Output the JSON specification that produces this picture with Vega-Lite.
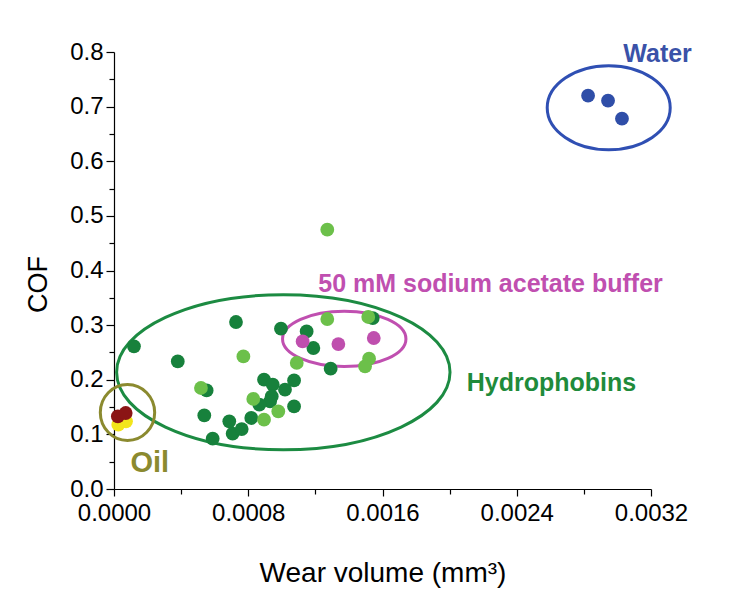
{
  "$schema": "https://vega.github.io/schema/vega-lite/v6.json",
  "width": 537,
  "height": 437,
  "autosize": {"type": "none"},
  "padding": {"left": 114, "top": 52, "right": 84, "bottom": 122},
  "background": "white",
  "config": {
    "view": {"stroke": null},
    "font": "Liberation Sans",
    "axis": {"grid": false, "domainColor": "black", "tickColor": "black", "labelColor": "black", "titleColor": "black", "labelFont": "Liberation Sans", "titleFont": "Liberation Sans", "titleFontWeight": "normal", "domainWidth": 1.2, "tickWidth": 1.2}
  },
  "datasets": {
    "points": [
      {"x": 0.0000256, "y": 0.1177, "group": "Oil (yellow)"},
      {"x": 0.0000715, "y": 0.1238, "group": "Oil (yellow)"},
      {"x": 0.0000230, "y": 0.1329, "group": "Oil (red)"},
      {"x": 0.0000697, "y": 0.1391, "group": "Oil (red)"},
      {"x": 0.000119, "y": 0.2611, "group": "Hydrophobins (dark)"},
      {"x": 0.000727, "y": 0.3057, "group": "Hydrophobins (dark)"},
      {"x": 0.000380, "y": 0.2336, "group": "Hydrophobins (dark)"},
      {"x": 0.000995, "y": 0.2935, "group": "Hydrophobins (dark)"},
      {"x": 0.001148, "y": 0.2885, "group": "Hydrophobins (dark)"},
      {"x": 0.001188, "y": 0.2581, "group": "Hydrophobins (dark)"},
      {"x": 0.001542, "y": 0.3130, "group": "Hydrophobins (dark)"},
      {"x": 0.001291, "y": 0.2202, "group": "Hydrophobins (dark)"},
      {"x": 0.000552, "y": 0.1805, "group": "Hydrophobins (dark)"},
      {"x": 0.000894, "y": 0.2001, "group": "Hydrophobins (dark)"},
      {"x": 0.000946, "y": 0.1909, "group": "Hydrophobins (dark)"},
      {"x": 0.001019, "y": 0.1818, "group": "Hydrophobins (dark)"},
      {"x": 0.001073, "y": 0.1988, "group": "Hydrophobins (dark)"},
      {"x": 0.000940, "y": 0.1695, "group": "Hydrophobins (dark)"},
      {"x": 0.000930, "y": 0.1604, "group": "Hydrophobins (dark)"},
      {"x": 0.000866, "y": 0.1543, "group": "Hydrophobins (dark)"},
      {"x": 0.001073, "y": 0.1512, "group": "Hydrophobins (dark)"},
      {"x": 0.000818, "y": 0.1300, "group": "Hydrophobins (dark)"},
      {"x": 0.000538, "y": 0.1347, "group": "Hydrophobins (dark)"},
      {"x": 0.000687, "y": 0.1238, "group": "Hydrophobins (dark)"},
      {"x": 0.000707, "y": 0.1012, "group": "Hydrophobins (dark)"},
      {"x": 0.000761, "y": 0.1098, "group": "Hydrophobins (dark)"},
      {"x": 0.000588, "y": 0.0921, "group": "Hydrophobins (dark)"},
      {"x": 0.001271, "y": 0.4747, "group": "Hydrophobins (light)"},
      {"x": 0.000771, "y": 0.2427, "group": "Hydrophobins (light)"},
      {"x": 0.001271, "y": 0.3112, "group": "Hydrophobins (light)"},
      {"x": 0.001515, "y": 0.3149, "group": "Hydrophobins (light)"},
      {"x": 0.001089, "y": 0.2307, "group": "Hydrophobins (light)"},
      {"x": 0.001520, "y": 0.2385, "group": "Hydrophobins (light)"},
      {"x": 0.001496, "y": 0.2244, "group": "Hydrophobins (light)"},
      {"x": 0.000518, "y": 0.1849, "group": "Hydrophobins (light)"},
      {"x": 0.000830, "y": 0.1648, "group": "Hydrophobins (light)"},
      {"x": 0.000979, "y": 0.1421, "group": "Hydrophobins (light)"},
      {"x": 0.000894, "y": 0.1269, "group": "Hydrophobins (light)"},
      {"x": 0.001124, "y": 0.2702, "group": "Buffer"},
      {"x": 0.001337, "y": 0.2654, "group": "Buffer"},
      {"x": 0.001548, "y": 0.2764, "group": "Buffer"},
      {"x": 0.002825, "y": 0.7200, "group": "Water"},
      {"x": 0.002944, "y": 0.7109, "group": "Water"},
      {"x": 0.003027, "y": 0.6779, "group": "Water"}
    ],
    "ellipses": [
      {"name": "Hydrophobins", "x": 0.001009, "y": 0.2138},
      {"name": "Buffer", "x": 0.001372, "y": 0.2748},
      {"name": "Water", "x": 0.002948, "y": 0.6980},
      {"name": "Oil", "x": 0.0000804, "y": 0.1400}
    ],
    "labels": [
      {"label": "Water", "x": 0.003035, "y": 0.7969, "group": "Water label"},
      {"label": "50 mM sodium acetate buffer", "x": 0.001217, "y": 0.3749, "group": "Buffer label"},
      {"label": "Hydrophobins", "x": 0.002102, "y": 0.1940, "group": "Hydrophobins label"},
      {"label": "Oil", "x": 0.0000980, "y": 0.0476, "group": "Oil label"}
    ]
  },
  "encoding": {
    "x": {"field": "x", "type": "quantitative", "scale": {"domain": [0, 0.0032], "nice": false, "zero": false}, "axis": null},
    "y": {"field": "y", "type": "quantitative", "scale": {"domain": [0, 0.8], "nice": false, "zero": false}, "axis": null}
  },
  "layer": [
    {
      "data": {"name": "ellipses"},
      "transform": [{"filter": "datum.name === 'Hydrophobins'"}],
      "mark": {"type": "point", "shape": "M-1,0C-1,-0.2568,-0.5523,-0.465,0,-0.465C0.5523,-0.465,1,-0.2568,1,0C1,0.2568,0.5523,0.465,0,0.465C-0.5523,0.465,-1,0.2568,-1,0Z", "size": 111156, "filled": false, "stroke": "#1c8b42", "strokeWidth": 3, "opacity": 1},
      "encoding": {
        "x": {"field": "x", "type": "quantitative", "scale": {"domain": [0, 0.0032], "nice": false, "zero": false}, "axis": {"orient": "bottom", "values": [0.0004, 0.0012, 0.002, 0.0028], "labels": false, "domain": false, "tickSize": 5, "title": null}},
        "y": {"field": "y", "type": "quantitative", "scale": {"domain": [0, 0.8], "nice": false, "zero": false}, "axis": {"orient": "left", "values": [0.05, 0.15, 0.25, 0.35, 0.45, 0.55, 0.65, 0.75], "labels": false, "domain": false, "tickSize": 5, "title": null}}
      }
    },
    {
      "data": {"name": "ellipses"},
      "transform": [{"filter": "datum.name === 'Buffer'"}],
      "mark": {"type": "point", "shape": "M-1,0C-1,-0.2463,-0.5523,-0.446,0,-0.446C0.5523,-0.446,1,-0.2463,1,0C1,0.2463,0.5523,0.446,0,0.446C-0.5523,0.446,-1,0.2463,-1,0Z", "size": 15228, "filled": false, "stroke": "#c04fb0", "strokeWidth": 3, "opacity": 1}
    },
    {
      "data": {"name": "ellipses"},
      "transform": [{"filter": "datum.name === 'Water'"}],
      "mark": {"type": "point", "shape": "M-1,0C-1,-0.3772,-0.5523,-0.683,0,-0.683C0.5523,-0.683,1,-0.3772,1,0C1,0.3772,0.5523,0.683,0,0.683C-0.5523,0.683,-1,0.3772,-1,0Z", "size": 15129, "filled": false, "stroke": "#2f4fb3", "strokeWidth": 3, "opacity": 1}
    },
    {
      "data": {"name": "ellipses"},
      "transform": [{"filter": "datum.name === 'Oil'"}],
      "mark": {"type": "point", "shape": "M-0.971,0C-0.971,-0.5523,-0.5363,-1,0,-1C0.5363,-1,0.971,-0.5523,0.971,0C0.971,0.5523,0.5363,1,0,1C-0.5363,1,-0.971,0.5523,-0.971,0Z", "size": 3136, "filled": false, "stroke": "#8b8a2f", "strokeWidth": 3, "opacity": 1}
    },
    {
      "data": {"name": "points"},
      "mark": {"type": "point", "shape": "circle", "filled": true, "size": 190, "opacity": 1, "strokeWidth": 0},
      "encoding": {
        "x": {"field": "x", "type": "quantitative", "scale": {"domain": [0, 0.0032], "nice": false, "zero": false},
          "axis": {"orient": "bottom", "values": [0, 0.0008, 0.0016, 0.0024, 0.0032], "format": ".4f", "title": "Wear volume (mm³)", "titleFontSize": 28, "labelFontSize": 24, "tickSize": 7, "labelPadding": 5, "titlePadding": 34, "labelFlush": false, "labelOverlap": false}},
        "y": {"field": "y", "type": "quantitative", "scale": {"domain": [0, 0.8], "nice": false, "zero": false},
          "axis": {"orient": "left", "values": [0, 0.1, 0.2, 0.3, 0.4, 0.5, 0.6, 0.7, 0.8], "format": ".1f", "title": "COF", "titleFontSize": 27, "labelFontSize": 24, "tickSize": 8, "labelPadding": 3, "titlePadding": 17, "titleY": 232, "labelFlush": false, "labelOverlap": false}},
        "color": {"field": "group", "type": "nominal", "legend": null,
          "scale": {"domain": ["Oil (yellow)", "Oil (red)", "Hydrophobins (dark)", "Hydrophobins (light)", "Buffer", "Water", "Water label", "Buffer label", "Hydrophobins label", "Oil label"],
                    "range": ["#f3e51b", "#8b1515", "#17813c", "#6cc04a", "#bf4fae", "#2f4ea8", "#3a52a8", "#c04fb0", "#1f8b3b", "#8b8a2f"]}}
      }
    },
    {
      "data": {"name": "labels"},
      "transform": [{"filter": "datum.label !== 'Oil'"}],
      "mark": {"type": "text", "align": "left", "baseline": "middle", "fontSize": 25, "fontWeight": "bold", "font": "Liberation Sans"},
      "encoding": {
        "text": {"field": "label"},
        "color": {"field": "group", "type": "nominal", "legend": null}
      }
    },
    {
      "data": {"name": "labels"},
      "transform": [{"filter": "datum.label === 'Oil'"}],
      "mark": {"type": "text", "align": "left", "baseline": "middle", "fontSize": 29, "fontWeight": "bold", "font": "Liberation Sans"},
      "encoding": {
        "text": {"field": "label"},
        "color": {"field": "group", "type": "nominal", "legend": null}
      }
    }
  ],
  "resolve": {"axis": {"x": "independent", "y": "independent"}}
}
